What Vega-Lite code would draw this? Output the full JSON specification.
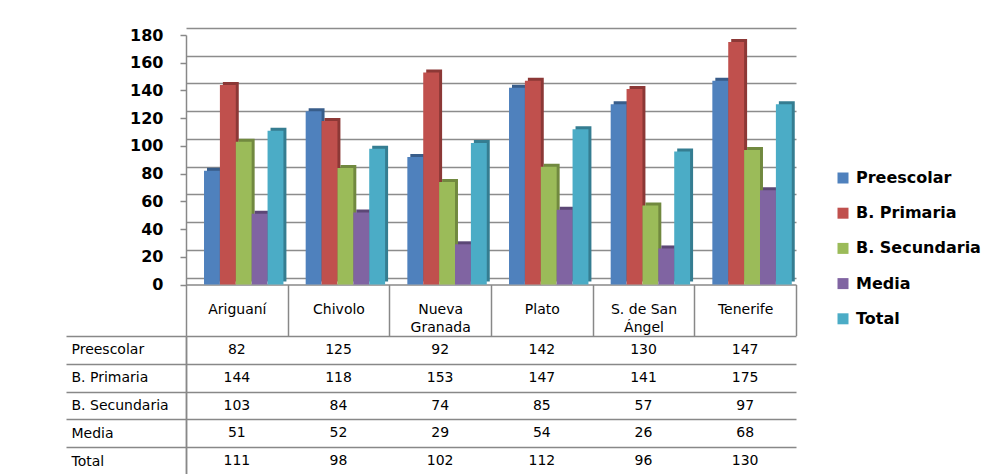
{
  "$schema": "https://vega.github.io/schema/vega-lite/v6.json",
  "padding": {"left": 65, "top": 27, "right": 0, "bottom": 0},
  "config": {
    "font": "DejaVu Sans",
    "view": {"stroke": "transparent", "strokeWidth": 0},
    "axis": {"title": null},
    "legend": {
      "orient": "none", "legendX": 649, "legendY": 135, "title": null,
      "symbolType": "square", "symbolSize": 121, "symbolStrokeWidth": 0,
      "labelFont": "DejaVu Sans", "labelFontSize": 16, "labelFontWeight": "bold",
      "labelColor": "#000", "rowPadding": 19.2, "labelOffset": 5
    }
  },
  "datasets": {
    "d": [
      {"cat": "Ariguaní", "serie": "Preescolar", "v": 82},
      {"cat": "Chivolo", "serie": "Preescolar", "v": 125},
      {"cat": "Nueva Granada", "serie": "Preescolar", "v": 92},
      {"cat": "Plato", "serie": "Preescolar", "v": 142},
      {"cat": "S. de San Ángel", "serie": "Preescolar", "v": 130},
      {"cat": "Tenerife", "serie": "Preescolar", "v": 147},
      {"cat": "Ariguaní", "serie": "B. Primaria", "v": 144},
      {"cat": "Chivolo", "serie": "B. Primaria", "v": 118},
      {"cat": "Nueva Granada", "serie": "B. Primaria", "v": 153},
      {"cat": "Plato", "serie": "B. Primaria", "v": 147},
      {"cat": "S. de San Ángel", "serie": "B. Primaria", "v": 141},
      {"cat": "Tenerife", "serie": "B. Primaria", "v": 175},
      {"cat": "Ariguaní", "serie": "B. Secundaria", "v": 103},
      {"cat": "Chivolo", "serie": "B. Secundaria", "v": 84},
      {"cat": "Nueva Granada", "serie": "B. Secundaria", "v": 74},
      {"cat": "Plato", "serie": "B. Secundaria", "v": 85},
      {"cat": "S. de San Ángel", "serie": "B. Secundaria", "v": 57},
      {"cat": "Tenerife", "serie": "B. Secundaria", "v": 97},
      {"cat": "Ariguaní", "serie": "Media", "v": 51},
      {"cat": "Chivolo", "serie": "Media", "v": 52},
      {"cat": "Nueva Granada", "serie": "Media", "v": 29},
      {"cat": "Plato", "serie": "Media", "v": 54},
      {"cat": "S. de San Ángel", "serie": "Media", "v": 26},
      {"cat": "Tenerife", "serie": "Media", "v": 68},
      {"cat": "Ariguaní", "serie": "Total", "v": 111},
      {"cat": "Chivolo", "serie": "Total", "v": 98},
      {"cat": "Nueva Granada", "serie": "Total", "v": 102},
      {"cat": "Plato", "serie": "Total", "v": 112},
      {"cat": "S. de San Ángel", "serie": "Total", "v": 96},
      {"cat": "Tenerife", "serie": "Total", "v": 130}
    ]
  },
  "bounds": "flush",
  "spacing": 51,
  "resolve": {"scale": {"x": "independent"}, "axis": {"x": "independent"}},
  "vconcat": [
    {
      "width": 610,
      "height": 249.5,
      "data": {"name": "d"},
      "layer": [
        {
          "mark": {"type": "bar", "yOffset": -3},
          "encoding": {
            "x": {"field": "cat", "type": "nominal", "sort": null,
              "scale": {"paddingInner": 0, "paddingOuter": 0},
              "axis": {"orient": "bottom", "tickBand": "extent", "tickSize": 51, "tickColor": "#888", "tickWidth": 1.5,
                "grid": false, "domainColor": "#888", "domainWidth": 1.5, "labelFontSize": 14, "labelColor": "#000",
                "labelPadding": -33, "labelAngle": 0, "labelLineHeight": 18,
                "labelExpr": "datum.label == 'Nueva Granada' ? ['Nueva', 'Granada'] : datum.label == 'S. de San Ángel' ? ['S. de San', 'Ángel'] : datum.label"}},
            "xOffset": {"field": "serie", "sort": null, "scale": {"paddingInner": 0, "paddingOuter": 0.7, "align": 0.944}},
            "y": {"field": "v", "type": "quantitative", "scale": {"domain": [0, 180], "nice": false},
              "axis": {"orient": "left", "values": [0, 20, 40, 60, 80, 100, 120, 140, 160, 180], "grid": true,
                "gridColor": "#8c8c8c", "gridWidth": 1.5, "tickOffset": -7, "labels": false, "ticks": false, "domain": false}},
            "color": {"field": "serie", "type": "nominal", "sort": null,
              "scale": {"range": ["#385D8A", "#8C3836", "#71893F", "#5C4776", "#357D91"]}, "legend": null}
          }
        },
        {
          "mark": {"type": "bar"},
          "encoding": {
            "x": {"field": "cat", "type": "nominal", "sort": null,
              "scale": {"paddingInner": 0, "paddingOuter": 0},
              "axis": {"orient": "bottom", "tickBand": "extent", "tickSize": 51, "tickColor": "#888", "tickWidth": 1.5,
                "grid": false, "domainColor": "#888", "domainWidth": 1.5, "labelFontSize": 14, "labelColor": "#000",
                "labelPadding": -33, "labelAngle": 0, "labelLineHeight": 18,
                "labelExpr": "datum.label == 'Nueva Granada' ? ['Nueva', 'Granada'] : datum.label == 'S. de San Ángel' ? ['S. de San', 'Ángel'] : datum.label"}},
            "xOffset": {"field": "serie", "sort": null, "scale": {"paddingInner": 0, "paddingOuter": 0.7, "align": 0.81}},
            "y": {"field": "v", "type": "quantitative", "scale": {"domain": [0, 180], "nice": false},
              "axis": {"orient": "left", "values": [0, 20, 40, 60, 80, 100, 120, 140, 160, 180], "grid": false,
                "domainColor": "#888", "domainWidth": 1.5, "tickColor": "#888", "tickWidth": 1.5, "tickSize": 6,
                "labelFontSize": 16, "labelFontWeight": "bold", "labelColor": "#000", "labelPadding": 17}},
            "color": {"field": "serie", "type": "nominal", "sort": null,
              "scale": {"range": ["#4F81BD", "#C0504D", "#9BBB59", "#8064A2", "#4BACC6"]}}
          }
        }
      ],
      "resolve": {"axis": {"y": "independent"}, "scale": {"color": "independent", "xOffset": "independent"}}
    },
    {
      "width": 610,
      "height": 139,
      "data": {"name": "d"},
      "layer": [
        {
          "mark": {"type": "text", "fontSize": 14, "color": "#000"},
          "encoding": {
            "x": {"field": "cat", "type": "nominal", "sort": null,
              "scale": {"type": "band", "paddingInner": 0, "paddingOuter": 0},
              "axis": {"orient": "top", "labels": false, "ticks": false, "domain": false, "grid": true,
                "tickBand": "extent", "gridColor": "#888", "gridWidth": 1.5}},
            "y": {"field": "serie", "type": "nominal", "sort": null,
              "scale": {"type": "band", "paddingInner": 0, "paddingOuter": 0},
              "axis": {"orient": "left", "tickBand": "extent", "grid": true, "gridColor": "#888", "gridWidth": 1.5,
                "ticks": true, "tickSize": 120, "tickColor": "#888", "tickWidth": 1.5,
                "domainColor": "#888", "domainWidth": 1.5, "labelAlign": "left", "labelPadding": -5,
                "labelFontSize": 14, "labelColor": "#000"}},
            "text": {"field": "v", "type": "quantitative"}
          }
        },
        {
          "mark": {"type": "point", "opacity": 0},
          "encoding": {
            "x": {"field": "cat", "type": "nominal", "sort": null, "axis": null},
            "y": {"field": "serie", "type": "nominal", "sort": null,
              "axis": {"orient": "left", "labels": false, "ticks": false, "grid": false,
                "domainColor": "#888", "domainWidth": 1.5}}
          }
        }
      ],
      "resolve": {"axis": {"y": "independent"}}
    }
  ]
}
